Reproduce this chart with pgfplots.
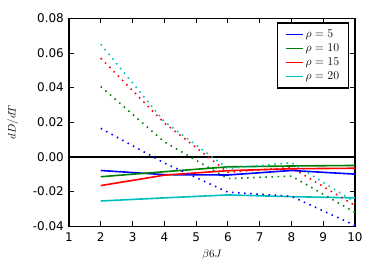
\documentclass[border=0pt]{standalone}
\usepackage{fontspec}
\setmainfont{DejaVu Sans}
\usepackage{pgfplots}
\pgfplotsset{compat=1.18}
\definecolor{mblue}{rgb}{0,0,1}
\definecolor{mgreen}{rgb}{0,0.5,0}
\definecolor{mred}{rgb}{1,0,0}
\definecolor{mcyan}{rgb}{0,0.75,0.75}
\begin{document}
\begin{tikzpicture}
\begin{axis}[
  scale only axis, width=286bp, height=208bp,
  xmin=1, xmax=10, ymin=-0.04, ymax=0.08,
  xtick={1,2,3,4,5,6,7,8,9,10},
  ytick={-0.04,-0.02,0,0.02,0.04,0.06,0.08},
  scaled y ticks=false,
  /pgf/number format/assume math mode=true,
  y tick label style={/pgf/number format/fixed, /pgf/number format/fixed zerofill, /pgf/number format/precision=2, xshift=-1.7bp},
  x tick label style={yshift=-3bp},
  ticklabel style={font=\fontsize{12}{14}\selectfont},
  tick align=inside, major tick length=5bp,
  tick style={black, line width=0.8bp},
  axis line style={black, line width=1.3bp},
  legend cell align=left,
  legend style={at={(axis description cs:0.98,0.98)}, anchor=north east,
    draw=black, line width=1.3bp, inner xsep=8bp, inner ysep=4.5bp, row sep=0bp,
    font=\fontsize{11.5}{13}\selectfont,
    nodes={inner sep=1.5bp, text height=8.3bp, text depth=2.7bp}},
  legend image code/.code={\draw[#1, line width=1.6bp, solid] (0bp,0bp) -- (17bp,0bp);},
]
% solid lines
\addplot[mblue, line width=1.6bp] coordinates {(2,-0.0078) (4,-0.0102) (6,-0.0104) (8,-0.0078) (10,-0.0099)};
\addlegendentry{$\rho=5$}
\addplot[mgreen, line width=1.6bp] coordinates {(2,-0.0114) (4,-0.0085) (6,-0.0057) (8,-0.0052) (10,-0.0049)};
\addlegendentry{$\rho=10$}
\addplot[mred, line width=1.6bp] coordinates {(2,-0.0165) (4,-0.0105) (6,-0.0079) (8,-0.0068) (10,-0.0065)};
\addlegendentry{$\rho=15$}
\addplot[mcyan, line width=1.6bp] coordinates {(2,-0.0254) (4,-0.0236) (6,-0.0219) (8,-0.0229) (10,-0.0236)};
\addlegendentry{$\rho=20$}
% zero line
\addplot[black, line width=1.8bp, forget plot] coordinates {(1,0) (10,0)};
% dotted lines
\addplot[mblue, line width=1.6bp, dash pattern=on 1.5bp off 4.6bp, forget plot] coordinates {(2,0.0165) (4,-0.0035) (6,-0.0203) (8,-0.0227) (10,-0.0395)};
\addplot[mgreen, line width=1.6bp, dash pattern=on 1.5bp off 4.6bp, forget plot] coordinates {(2,0.0406) (4,0.0087) (6,-0.0125) (8,-0.0110) (10,-0.0320)};
\addplot[mred, line width=1.6bp, dash pattern=on 1.5bp off 4.6bp, forget plot] coordinates {(2,0.0570) (4,0.0196) (6,-0.0088) (8,-0.0061) (10,-0.0280)};
\addplot[mcyan, line width=1.6bp, dash pattern=on 1.5bp off 4.6bp, forget plot] coordinates {(2,0.0650) (4,0.0204) (6,-0.0067) (8,-0.0033) (10,-0.0260)};
\end{axis}
\node[font=\fontsize{11}{13}\selectfont] at ([yshift=-28.5bp]current axis.south) {$\beta 6 J$};
\node[rotate=90, font=\fontsize{11}{13}\selectfont] at ([xshift=-56bp]current axis.west) {$dD/dT$};
\pgfresetboundingbox
\path ([xshift=-69bp,yshift=-40.5bp]current axis.south west) rectangle ([xshift=27bp,yshift=18.3bp]current axis.north east);
\end{tikzpicture}
\end{document}
